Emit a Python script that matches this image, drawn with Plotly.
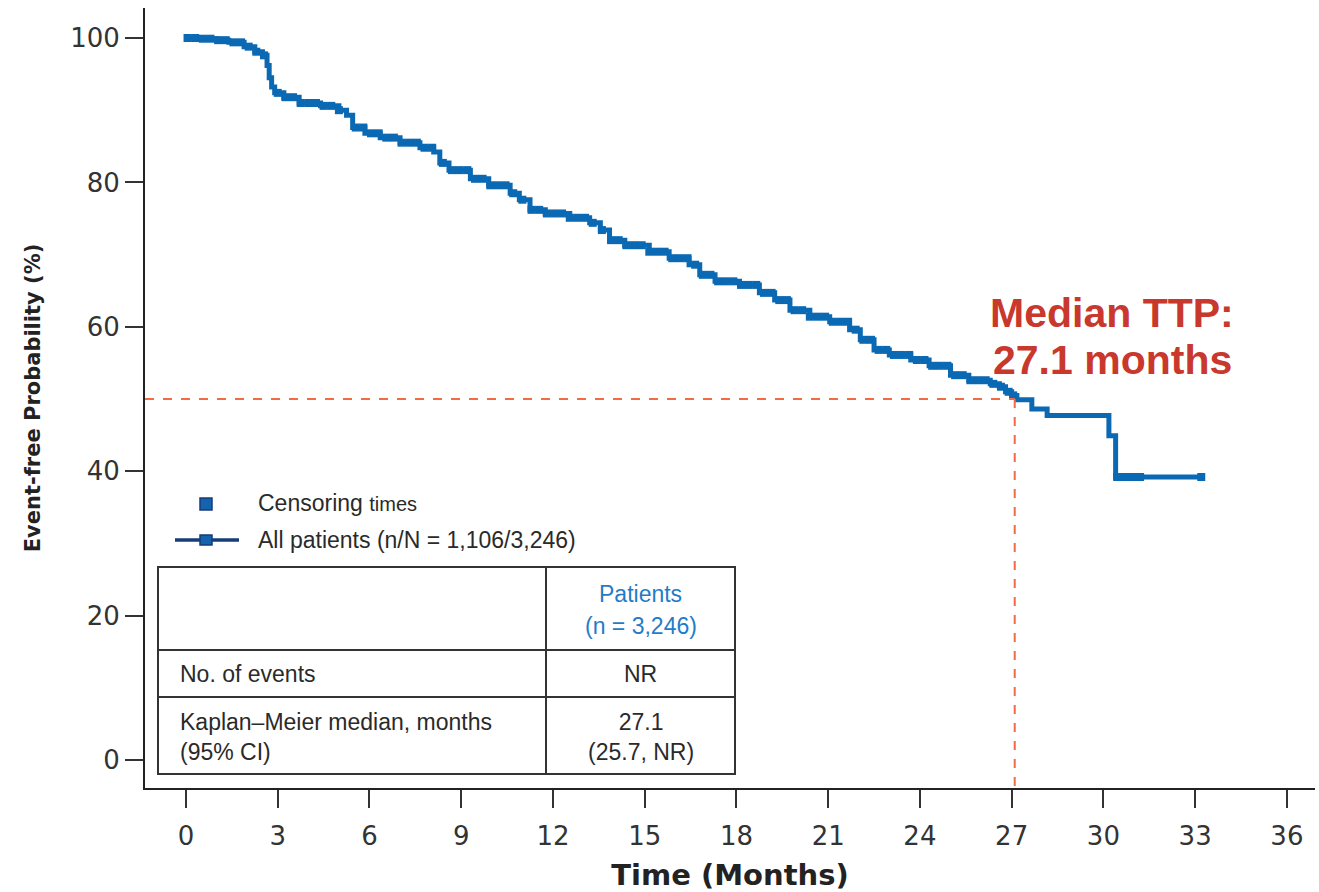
import numpy as np
import plotly.graph_objects as go

# ---- Kaplan-Meier curve (months, event-free %) ----
km_time = [0, 0.5, 1.0, 1.4, 1.9, 2.25, 2.5, 2.65, 2.72, 2.8, 2.9, 3.2, 3.7, 4.4,
           5.0, 5.25, 5.45, 5.85, 6.35, 7.0, 7.65, 8.1, 8.3, 8.6, 9.3, 9.9, 10.6,
           10.9, 11.25, 11.75, 12.55, 13.2, 13.55, 13.85, 14.35, 15.15, 15.8, 16.45,
           16.8, 17.3, 18.1, 18.75, 19.25, 19.75, 20.4, 21.05, 21.7, 22.05, 22.5,
           23.0, 23.7, 24.3, 25.0, 25.6, 26.3, 26.6, 26.8, 27.0, 27.17, 27.66,
           28.16, 30.18, 30.4, 33.26]
km_surv = [100, 99.9, 99.7, 99.4, 98.8, 98.1, 97.6, 96.2, 94.5, 93.2, 92.4, 91.8,
           91.0, 90.6, 90.0, 89.3, 87.6, 86.8, 86.2, 85.5, 84.8, 84.2, 82.7, 81.7,
           80.5, 79.6, 78.5, 77.6, 76.2, 75.7, 75.1, 74.4, 73.4, 72.0, 71.3, 70.4,
           69.5, 68.6, 67.2, 66.3, 65.8, 64.7, 63.7, 62.3, 61.4, 60.7, 59.6, 58.2,
           56.8, 56.1, 55.4, 54.6, 53.3, 52.6, 52.1, 51.7, 51.0, 50.5, 49.9, 48.6,
           47.7, 44.9, 39.2, 39.2]

# censoring times (months)
censor_times = [0.05, 0.3, 0.55, 0.8, 1.05, 1.3, 1.55, 1.8, 2.05, 2.3, 2.55, 3.0,
                3.25, 3.5, 3.75, 4.0, 4.25, 4.5, 4.75, 5.0, 5.55, 5.8, 6.05, 6.3,
                6.55, 6.8, 7.05, 7.3, 7.55, 7.8, 8.05, 8.4, 8.7, 8.95, 9.2, 9.45,
                9.7, 9.95, 10.2, 10.45, 10.7, 11.0, 11.3, 11.55, 11.8, 12.05, 12.3,
                12.55, 12.8, 13.05, 13.3, 13.6, 13.9, 14.15, 14.4, 14.65, 14.9,
                15.15, 15.4, 15.65, 15.9, 16.15, 16.4, 16.65, 16.9, 17.15, 17.4,
                17.65, 17.9, 18.15, 18.4, 18.65, 18.9, 19.15, 19.4, 19.65, 19.9,
                20.15, 20.4, 20.65, 20.9, 21.15, 21.4, 21.65, 21.9, 22.15, 22.4,
                22.65, 22.9, 23.15, 23.4, 23.65, 23.9, 24.15, 24.4, 24.65, 24.9,
                25.15, 25.4, 25.65, 25.9, 26.15, 26.4, 26.65, 26.9, 27.05,
                30.45, 30.6, 30.75, 30.9, 31.05, 31.2, 33.2]

median_time = 27.1
median_surv = 50

x_ticks = list(range(0, 37, 3))
y_ticks = [0, 20, 40, 60, 80, 100]

legend_censor = "Censoring <span style='font-size:20px'>times</span>"
legend_all = "All patients (n/N = 1,106/3,246)"
table_header = ["Patients", "(n = 3,246)"]
table_rows = [("No. of events", "NR"),
              ("Kaplan\u2013Meier median, months<br>(95% CI)", "27.1<br>(25.7, NR)")]

# ---- layout geometry (pixels of the 1319x892 page) ----
L, R, T, B = 145, 1315, 8, 788
W, H = R - L, B - T
def px(x):
    return (x - L) / W
def py(y):
    return (B - y) / H

x_range = [(L - 186) / 30.58, (R - 186) / 30.58]
y_range = [(760 - B) / 7.22, (760 - T) / 7.22]

BLUE = "#0b69b3"
NAVY = "#173d78"
RED = "#c9382c"
DASH = "#f36a45"
INK = "#2a2a2a"

ct = np.array(censor_times)
idx = np.searchsorted(np.array(km_time), ct, side="right") - 1
censor_y = np.array(km_surv)[idx]

fig = go.Figure()
fig.add_trace(go.Scatter(x=km_time, y=km_surv, mode="lines",
                         line=dict(color=BLUE, width=5, shape="hv"),
                         showlegend=False, hoverinfo="x+y"))
fig.add_trace(go.Scatter(x=ct, y=censor_y, mode="markers",
                         marker=dict(symbol="square", size=8, color=BLUE,
                                     line=dict(width=0)),
                         showlegend=False))

shapes = []
# median dashed guides
shapes.append(dict(type="line", xref="x", yref="y", x0=x_range[0], x1=median_time,
                   y0=median_surv, y1=median_surv,
                   line=dict(color=DASH, width=2, dash="dash")))
shapes.append(dict(type="line", xref="x", yref="y", x0=median_time, x1=median_time,
                   y0=median_surv, y1=y_range[0] - 1.0,
                   line=dict(color=DASH, width=2, dash="dash")))

# legend symbols
shapes.append(dict(type="rect", xref="paper", yref="paper",
                   x0=px(200), x1=px(212), y0=py(510), y1=py(498),
                   fillcolor="#1463ae", line=dict(color=NAVY, width=1.5)))
shapes.append(dict(type="line", xref="paper", yref="paper",
                   x0=px(175), x1=px(239), y0=py(540), y1=py(540),
                   line=dict(color=NAVY, width=3.5)))
shapes.append(dict(type="rect", xref="paper", yref="paper",
                   x0=px(200), x1=px(212), y0=py(545), y1=py(535),
                   fillcolor="#1463ae", line=dict(color=NAVY, width=1.5)))

# table
tl, tr, tt, tb = 158, 735, 567, 774
tdiv, r1, r2 = 546, 650, 697
tline = dict(color="#333333", width=2)
shapes.append(dict(type="rect", xref="paper", yref="paper",
                   x0=px(tl), x1=px(tr), y0=py(tb), y1=py(tt),
                   line=tline, fillcolor="white", layer="above"))
shapes.append(dict(type="line", xref="paper", yref="paper",
                   x0=px(tdiv), x1=px(tdiv), y0=py(tb), y1=py(tt), line=tline))
for yy in (r1, r2):
    shapes.append(dict(type="line", xref="paper", yref="paper",
                       x0=px(tl), x1=px(tr), y0=py(yy), y1=py(yy), line=tline))

ann = []
FONT = "Liberation Sans, Arial, sans-serif"
ann.append(dict(xref="paper", yref="paper", x=px(256), y=py(503), xanchor="left",
                yanchor="middle", text=legend_censor, showarrow=False,
                font=dict(family=FONT, size=23, color=INK)))
ann.append(dict(xref="paper", yref="paper", x=px(256), y=py(540), xanchor="left",
                yanchor="middle", text=legend_all, showarrow=False,
                font=dict(family=FONT, size=23, color=INK)))
ccol = (tdiv + tr) / 2
ann.append(dict(xref="paper", yref="paper", x=px(ccol), y=py(594), xanchor="center",
                yanchor="middle", text=table_header[0], showarrow=False,
                font=dict(family=FONT, size=23, color="#1f7cc8")))
ann.append(dict(xref="paper", yref="paper", x=px(ccol), y=py(626), xanchor="center",
                yanchor="middle", text=table_header[1], showarrow=False,
                font=dict(family=FONT, size=23, color="#1f7cc8")))
row_centers = [(r1 + r2) / 2, (r2 + tb) / 2 + 1]
for (lab, val), yc in zip(table_rows, row_centers):
    ann.append(dict(xref="paper", yref="paper", x=px(178), y=py(yc), xanchor="left",
                    yanchor="middle", align="left", text=lab, showarrow=False,
                    font=dict(family=FONT, size=23, color=INK)))
    ann.append(dict(xref="paper", yref="paper", x=px(ccol), y=py(yc), xanchor="center",
                    yanchor="middle", align="center", text=val, showarrow=False,
                    font=dict(family=FONT, size=23, color=INK)))

ann.append(dict(xref="paper", yref="paper", x=px(1112), y=py(313), xanchor="center",
                yanchor="middle", text="<b>Median TTP:</b>", showarrow=False,
                font=dict(family=FONT, size=41, color=RED)))
ann.append(dict(xref="paper", yref="paper", x=px(1112), y=py(360), xanchor="center",
                yanchor="middle", text="<b>27.1 months</b>", showarrow=False,
                font=dict(family=FONT, size=41, color=RED)))

TICKFONT = dict(family="DejaVu Sans, sans-serif", size=26, color="#333333")
fig.update_layout(
    width=1319, height=892,
    margin=dict(l=L, r=1319 - R, t=T, b=892 - B, pad=0),
    paper_bgcolor="white", plot_bgcolor="white",
    shapes=shapes, annotations=ann, showlegend=False,
    xaxis=dict(range=x_range, tickvals=x_ticks, ticks="outside", ticklen=18,
               tickwidth=1.5, tickcolor="#333333", showline=True,
               linecolor="#222222", linewidth=1.8, showgrid=False, zeroline=False,
               tickfont=TICKFONT, ticklabelstandoff=6, automargin=False,
               title=dict(text="<b>Time (Months)</b>", standoff=16,
                          font=dict(family="DejaVu Sans, sans-serif", size=29,
                                    color="#222222"))),
    yaxis=dict(range=y_range, tickvals=y_ticks, ticks="outside", ticklen=18,
               tickwidth=1.5, tickcolor="#333333", showline=True,
               linecolor="#222222", linewidth=1.8, showgrid=False, zeroline=False,
               tickfont=TICKFONT, automargin=False,
               title=dict(text="<b>Event-free Probability (%)</b>", standoff=24,
                          font=dict(family="DejaVu Sans, sans-serif", size=21,
                                    color="#222222"))),
)

fig.write_html("out.html", post_script="document.body.style.margin='0';",
               config={"displayModeBar": False})
